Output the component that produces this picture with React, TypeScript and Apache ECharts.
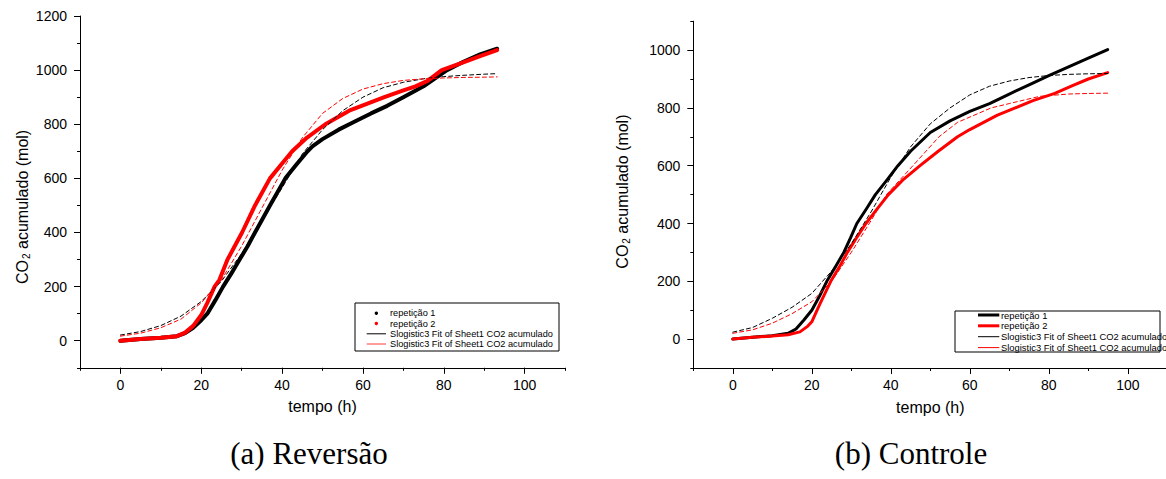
import React, { useEffect, useRef } from 'react';
import * as echarts from 'echarts';

// ---------- Data: (a) Reversão ----------
const revRep1T = [0, 5, 10, 14, 16, 18, 20, 21.5, 23.5, 25.4, 27.5, 29.5, 31.5, 33.3, 37, 40.8, 43.5, 46.3, 47.5, 50, 54, 58, 62, 66, 70, 75, 80.8, 85, 89, 93.2];
const revRep1V = [0, 6, 11, 17, 28, 48, 76, 100, 150, 200, 250, 300, 350, 400, 500, 600, 650, 700, 718, 745, 780, 810, 840, 868, 900, 940, 1000, 1032, 1058, 1079];

const revRep2T = [0, 5, 10, 14, 16, 18, 20, 21.5, 23.3, 24.5, 26.5, 28.3, 30.1, 33.3, 37, 40, 42.5, 46.1, 50.7, 56.6, 60, 65.3, 70, 73, 76, 79.5, 85, 89, 93.2];
const revRep2V = [0, 6, 11, 17, 30, 55, 95, 140, 200, 225, 300, 350, 400, 500, 600, 655, 700, 750, 800, 850, 870, 900, 925, 940, 960, 1000, 1030, 1052, 1074];

const revFit1T = [0, 5, 10, 15, 20, 25, 30, 35, 40, 45, 50, 55, 60, 65, 70, 75, 80, 85, 90, 93.2];
const revFit1V = [21, 34, 56, 91, 145, 220, 322, 445, 565, 690, 780, 850, 900, 935, 955, 968, 976, 981, 985, 987];

const revFit2T = [0, 5, 10, 15, 20, 25, 30, 35, 40, 45, 50, 55, 60, 65, 70, 75, 80, 85, 90, 93.2];
const revFit2V = [17, 28, 48, 80, 140, 225, 350, 490, 630, 750, 840, 895, 930, 950, 962, 968, 971, 973, 974, 975];

// ---------- Data: (b) Controle ----------
const ctlRep1T = [0, 5, 10, 14, 16, 18, 20, 22, 23.8, 26, 28.1, 29.8, 31.4, 33.8, 36.1, 39, 41.8, 45, 50, 55, 60, 65, 70, 75, 80, 85, 90, 94.9];
const ctlRep1V = [0, 6, 12, 20, 35, 66, 100, 150, 200, 250, 300, 350, 400, 450, 500, 550, 600, 650, 715, 755, 788, 815, 848, 880, 912, 942, 972, 1002];

const ctlRep2T = [0, 5, 10, 14, 17, 19, 20, 22, 24.8, 27, 29, 31.3, 33.7, 36.5, 39.4, 43, 47.4, 52, 56.9, 60, 63.5, 67, 71.5, 76, 81.5, 86, 90, 94.9];
const ctlRep2V = [0, 6, 11, 15, 25, 45, 60, 120, 200, 250, 300, 350, 400, 450, 500, 550, 600, 650, 700, 725, 750, 775, 800, 825, 850, 877, 900, 922];

const ctlFit1T = [0, 5, 10, 15, 20, 25, 30, 35, 40, 45, 50, 55, 60, 65, 70, 75, 80, 85, 90, 94.9];
const ctlFit1V = [24, 40, 72, 110, 158, 235, 330, 440, 560, 665, 745, 800, 845, 875, 893, 905, 912, 916, 918, 919];

const ctlFit2T = [0, 5, 10, 15, 20, 25, 30, 35, 38.9, 45.6, 52.2, 56.9, 65.4, 70, 77.7, 85, 90, 94.9];
const ctlFit2V = [20, 32, 55, 88, 129, 200, 300, 410, 500, 600, 700, 750, 800, 815, 840, 848, 850, 851];

// ---------- Ticks / labels ----------
const xTicks = [0, 20, 40, 60, 80, 100];
const yTicksRev = [0, 200, 400, 600, 800, 1000, 1200];
const yTicksCtl = [0, 200, 400, 600, 800, 1000];

const repName1 = 'repetição 1';
const repName2 = 'repetição 2';
const fitName = 'Slogistic3 Fit of Sheet1 CO2 acumulado';
const xTitle = 'tempo (h)';
const captionA = '(a) Reversão';
const captionB = '(b) Controle';

const SANS = '"Liberation Sans", Arial, Helvetica, sans-serif';
const SERIF = '"Liberation Serif", "Times New Roman", serif';

const pairs = (t: number[], v: number[]) => t.map((x, i) => [x, v[i]]);
const plain = (v: number) => String(v);

function majorX(gridIndex: number) {
  return {
    type: 'value', gridIndex, min: -10, max: 110, position: 'bottom',
    axisLine: { onZero: false, lineStyle: { color: '#000', width: 1 } },
    axisTick: { show: true, length: 6, customValues: xTicks, lineStyle: { color: '#000' } },
    axisLabel: { customValues: xTicks, formatter: plain, fontSize: 14, color: '#000', fontFamily: SANS, margin: 10 },
    splitLine: { show: false },
    name: xTitle, nameLocation: 'middle', nameGap: 31,
    nameTextStyle: { fontSize: 16, color: '#000', fontFamily: SANS },
  };
}
function minorX(gridIndex: number) {
  return {
    type: 'value', gridIndex, min: -10, max: 110, interval: 10, position: 'bottom',
    axisLine: { show: false, onZero: false },
    axisTick: { show: true, length: 3, lineStyle: { color: '#000' } },
    axisLabel: { show: false },
    splitLine: { show: false },
  };
}
function majorY(gridIndex: number, max: number, ticks: number[], gap: number, pad: number[]) {
  return {
    type: 'value', gridIndex, min: -100, max, position: 'left',
    axisLine: { show: true, onZero: false, lineStyle: { color: '#000', width: 1 } },
    axisTick: { show: true, length: 6, customValues: ticks, lineStyle: { color: '#000' } },
    axisLabel: { customValues: ticks, formatter: plain, fontSize: 14, color: '#000', fontFamily: SANS, margin: 13 },
    splitLine: { show: false },
    name: '{a|CO}{s|2}{a| acumulado (mol)}', nameLocation: 'middle', nameGap: gap,
    nameTextStyle: {
      fontSize: 16, color: '#000', fontFamily: SANS, padding: pad,
      rich: {
        a: { fontSize: 16, color: '#000', fontFamily: SANS, lineHeight: 17, verticalAlign: 'top' },
        s: { fontSize: 10, color: '#000', fontFamily: SANS, lineHeight: 10, verticalAlign: 'bottom', padding: [14, 0, 0, 1] },
      },
    },
  };
}
function minorY(gridIndex: number, max: number) {
  return {
    type: 'value', gridIndex, min: -100, max, interval: 100, position: 'left',
    axisLine: { show: false, onZero: false },
    axisTick: { show: true, length: 3, lineStyle: { color: '#000' } },
    axisLabel: { show: false },
    splitLine: { show: false },
  };
}

function lineSeries(name: string, xi: number, yi: number, data: number[][], color: string, width: number, dashed: boolean, z: number) {
  return {
    type: 'line', name, xAxisIndex: xi, yAxisIndex: yi, data,
    symbol: 'none', showSymbol: false, smooth: false,
    lineStyle: { color, width, type: dashed ? [4, 3] : 'solid', cap: 'round', join: 'round' },
    itemStyle: { color }, z, silent: true,
  };
}

function legendGraphic(x: number, y: number, w: number, h: number, rows: number[], lineX0: number, lineX1: number, textX: number, fs: number, icons: any[]) {
  const els: any[] = [
    { type: 'rect', shape: { x, y, width: w, height: h }, style: { fill: '#fff', stroke: '#000', lineWidth: 1 }, z: 100 },
  ];
  const labels = [repName1, repName2, fitName, fitName];
  rows.forEach((ry, i) => {
    const ic = icons[i];
    if (ic.kind === 'dot') {
      els.push({ type: 'circle', shape: { cx: (lineX0 + lineX1) / 2, cy: ry, r: 1.7 }, style: { fill: ic.color }, z: 101 });
    } else {
      els.push({ type: 'line', shape: { x1: lineX0, y1: ry, x2: lineX1, y2: ry }, style: { stroke: ic.color, lineWidth: ic.width }, z: 101 });
    }
    els.push({ type: 'text', x: textX, y: ry, style: { text: labels[i], fontSize: fs, fontFamily: SANS, fill: '#000', verticalAlign: 'middle', align: 'left' }, z: 101 });
  });
  return els;
}

export default function App() {
  const ref = useRef<HTMLDivElement>(null);
  useEffect(() => {
    if (!ref.current) return;
    const chart = echarts.init(ref.current, undefined, { renderer: 'svg' });
    const option: any = {
      animation: false,
      backgroundColor: '#fff',
      grid: [
        { left: 80, top: 16, width: 485, height: 351.8, outerBoundsMode: 'none', containLabel: false },
        { left: 693.3, top: 21.2, width: 474, height: 346.8, outerBoundsMode: 'none', containLabel: false },
      ],
      xAxis: [majorX(0), minorX(0), majorX(1), minorX(1)],
      yAxis: [
        majorY(0, 1200, yTicksRev, 42, [0, 30, 0, 0]), minorY(0, 1200),
        majorY(1, 1100, yTicksCtl, 62, [0, 0, 0, 6]), minorY(1, 1100),
      ],
      series: [
        lineSeries(repName1, 0, 0, pairs(revRep1T, revRep1V), '#000', 4, false, 2),
        lineSeries(repName2, 0, 0, pairs(revRep2T, revRep2V), '#ff0000', 4, false, 3),
        lineSeries(fitName, 0, 0, pairs(revFit1T, revFit1V), '#000', 1, true, 4),
        lineSeries(fitName, 0, 0, pairs(revFit2T, revFit2V), '#ff0000', 1, true, 5),
        lineSeries(repName1, 2, 2, pairs(ctlRep1T, ctlRep1V), '#000', 3, false, 2),
        lineSeries(repName2, 2, 2, pairs(ctlRep2T, ctlRep2V), '#ff0000', 3, false, 3),
        lineSeries(fitName, 2, 2, pairs(ctlFit1T, ctlFit1V), '#000', 1, true, 4),
        lineSeries(fitName, 2, 2, pairs(ctlFit2T, ctlFit2V), '#ff0000', 1, true, 5),
      ],
      graphic: [
        ...legendGraphic(355, 303, 204, 48, [313.3, 323.5, 333.8, 344], 366.7, 386, 390, 9.2, [
          { kind: 'dot', color: '#000' }, { kind: 'dot', color: '#ff0000' },
          { kind: 'line', color: '#000', width: 1 }, { kind: 'line', color: '#ff3b3b', width: 1 },
        ]),
        ...legendGraphic(955, 311, 205, 41, [315, 325.8, 336.7, 347.6], 978, 999.3, 1001, 9.4, [
          { kind: 'line', color: '#000', width: 3 }, { kind: 'line', color: '#ff0000', width: 3 },
          { kind: 'line', color: '#000', width: 1 }, { kind: 'line', color: '#ff0000', width: 1 },
        ]),
        { type: 'text', x: 309, y: 453, style: { text: captionA, fontSize: 31, fontFamily: SERIF, fill: '#000', align: 'center', verticalAlign: 'middle' } },
        { type: 'text', x: 911, y: 453, style: { text: captionB, fontSize: 31, fontFamily: SERIF, fill: '#000', align: 'center', verticalAlign: 'middle' } },
      ],
    };
    chart.setOption(option);
    return () => chart.dispose();
  }, []);
  return <div ref={ref} style={{ position: 'fixed', left: 0, top: 0, width: 1166, height: 479, background: '#fff' }} />;
}
